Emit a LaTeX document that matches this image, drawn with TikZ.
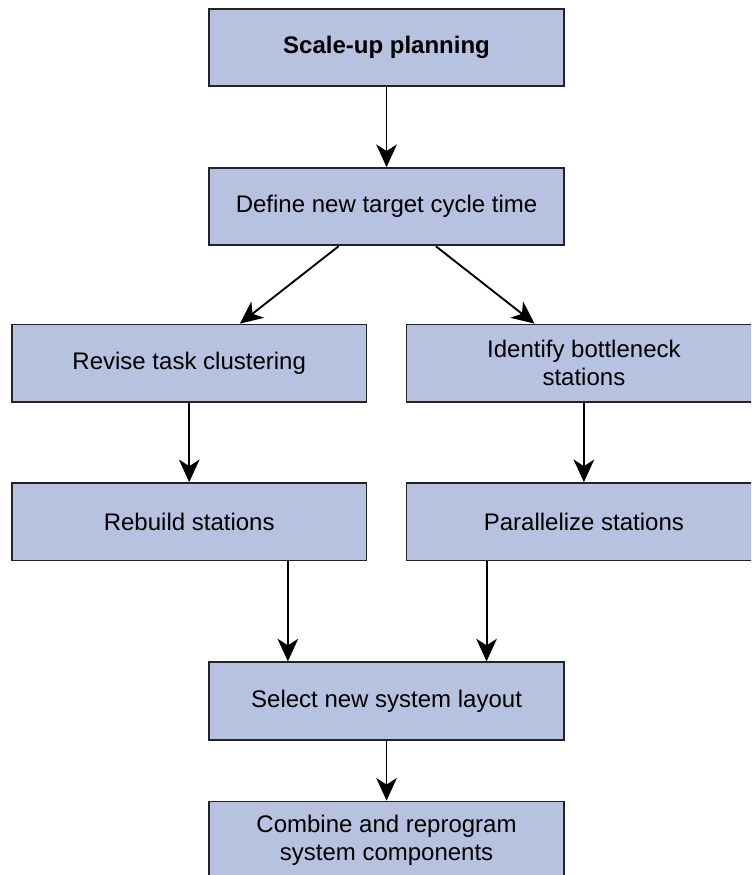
\documentclass[tikz,border=0pt]{standalone}
\usepackage{fontspec}
\setmainfont{Liberation Sans}
\usepackage{tikz}
\usetikzlibrary{arrows.meta,positioning,calc}
\definecolor{stepblue}{RGB}{183,194,225}
\definecolor{stepedge}{RGB}{35,35,35}

\begin{document}
\begin{tikzpicture}[node distance=60pt, >={Stealth[length=17pt,width=15.5pt,inset=5pt]}, line width=1.4pt]
  \tikzstyle{box} = [rectangle, draw=stepedge, fill=stepblue, minimum width=266pt, minimum height=58pt, inner sep=0pt, align=center, font=\fontsize{18pt}{21pt}\selectfont]

  \useasboundingbox (-289.9pt,35.6pt) rectangle (273.4pt,-620.6pt);
  \clip (-289.9pt,35.6pt) rectangle (273.4pt,-620.6pt);

  \node[box, font=\fontsize{18pt}{21pt}\selectfont\bfseries] (plan) at (0,0) {Scale-up planning};
  \node[box] (target) [below=of plan] {Define new target cycle time};
  \node[box] (cluster) [below=58pt of target, xshift=-148pt] {Revise task clustering};
  \node[box] (bottleneck) [below=58pt of target, xshift=148pt] {Identify bottleneck\\stations};
  \node[box] (rebuild) [below=59.5pt of cluster] {Rebuild stations};
  \node[box] (parallel) [below=59.5pt of bottleneck] {Parallelize stations};
  \node[box] (layout) [below=75pt of rebuild, xshift=148pt] {Select new system layout};
  \node[box] (combine) [below=45pt of layout] {Combine and reprogram\\system components};

  \draw[->] (plan) -- (target);
  \draw[->] ([xshift=-36pt]target.south) -- ([xshift=38pt]cluster.north);
  \draw[->] ([xshift=37pt]target.south) -- ([xshift=-37pt]bottleneck.north);
  \draw[->] (cluster) -- (rebuild);
  \draw[->] (bottleneck) -- (parallel);
  \draw[->] ([xshift=74pt]rebuild.south) -- ([xshift=-74pt]layout.north);
  \draw[->] ([xshift=-73pt]parallel.south) -- ([xshift=75pt]layout.north);
  \draw[->] (layout) -- (combine);
\end{tikzpicture}
\end{document}
